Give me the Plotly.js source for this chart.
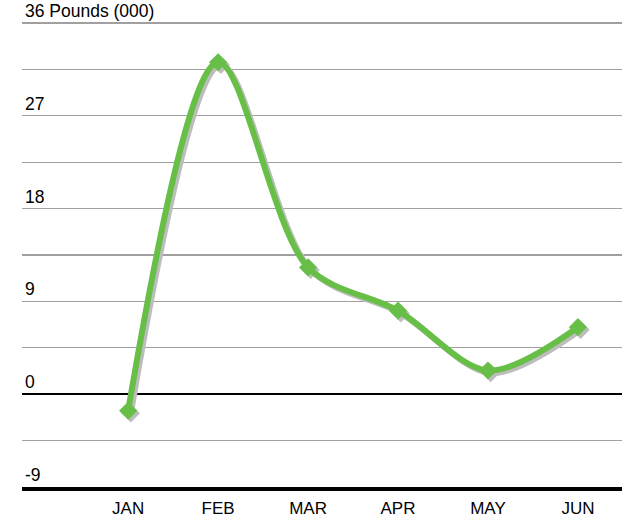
<!DOCTYPE html>
<html>
<head>
<meta charset="utf-8">
<script src="https://cdn.plot.ly/plotly-3.0.1.min.js"></script>
<style>html,body{margin:0;padding:0;background:#fff}#chart{width:631px;height:521px}</style>
</head>
<body>
<div id="chart"></div>
<script>
var months = ["JAN", "FEB", "MAR", "APR", "MAY", "JUN"];
var pounds = [-1.6, 32.2, 12.3, 8.1, 2.3, 6.5];
var gridVals = [-9, -4.5, 0, 4.5, 9, 13.5, 18, 22.5, 27, 31.5, 36];
var labelVals = [-9, 0, 9, 18, 27, 36];
var labelText = ["-9", "0", "9", "18", "27", "36 Pounds (000)"];

var green = "#68bf48";
var shadow = "#bdbdbd";
var xr = [-1.18, 5.49];
var yr = [-9, 36.2];

var traces = [
  {x: months, y: pounds, xaxis: "x", yaxis: "y", type: "scatter", mode: "none", hoverinfo: "skip", showlegend: false},
  {x: months, y: pounds, xaxis: "x2", yaxis: "y2", type: "scatter", mode: "lines+markers",
   line: {color: shadow, width: 6, shape: "spline", smoothing: 0.9},
   marker: {symbol: "diamond", size: 14, color: shadow}, hoverinfo: "skip", showlegend: false},
  {x: months, y: pounds, xaxis: "x3", yaxis: "y3", type: "scatter", mode: "lines+markers",
   line: {color: green, width: 6, shape: "spline", smoothing: 0.9},
   marker: {symbol: "diamond", size: 14, color: green}, showlegend: false}
];

var annotations = labelVals.map(function (v, i) {
  return {xref: "paper", yref: "y", x: 0, y: v, xanchor: "left", yanchor: "bottom",
          xshift: 1, yshift: 0, text: labelText[i], showarrow: false,
          font: {family: "Liberation Sans, Arial, sans-serif", size: 17.5, color: "#000"}};
});

var layout = {
  width: 631, height: 521,
  margin: {l: 22, r: 9, t: 21, b: 34},
  paper_bgcolor: "#fff", plot_bgcolor: "#fff",
  font: {family: "Liberation Sans, Arial, sans-serif", size: 17, color: "#000"},
  showlegend: false,
  annotations: annotations,
  xaxis: {type: "category", categoryarray: months, range: xr, showgrid: false, zeroline: false,
          showline: true, linecolor: "#000", linewidth: 4, ticks: "", tickvals: months, ticktext: months,
          ticklabelstandoff: 3, fixedrange: true},
  yaxis: {range: yr, tickvals: gridVals, showticklabels: false, showgrid: true, gridcolor: "#a0a0a0", gridwidth: 1.2,
          zeroline: true, zerolinecolor: "#000", zerolinewidth: 1.5, showline: false, ticks: "", fixedrange: true},
  xaxis2: {type: "category", categoryarray: months, overlaying: "x", range: [xr[0] - 0.03, xr[1] - 0.03], visible: false},
  yaxis2: {overlaying: "y", range: [yr[0] + 0.25, yr[1] + 0.25], visible: false},
  xaxis3: {type: "category", categoryarray: months, overlaying: "x", range: xr, visible: false},
  yaxis3: {overlaying: "y", range: yr, visible: false}
};
Plotly.newPlot("chart", traces, layout, {displayModeBar: false, staticPlot: true});
</script>
</body>
</html>
